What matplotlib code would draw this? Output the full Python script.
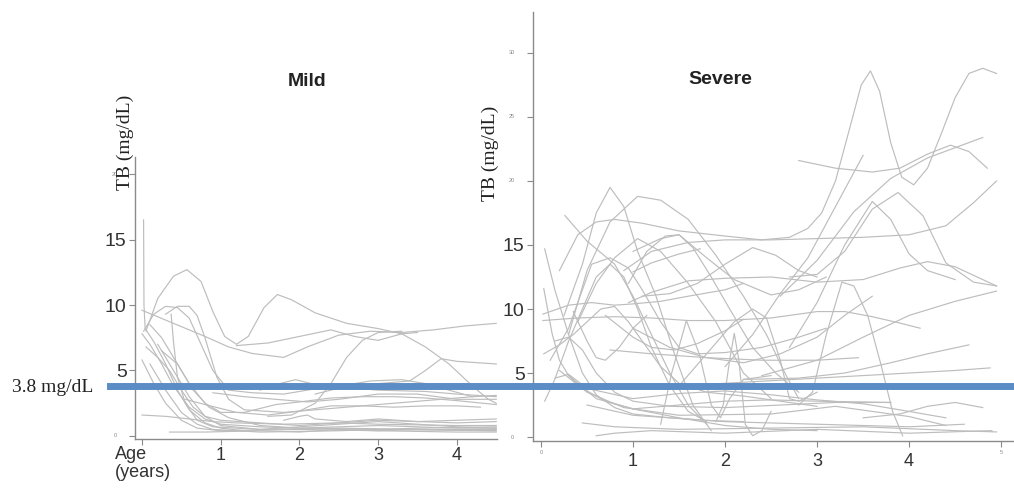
import matplotlib
matplotlib.use("Agg")
import matplotlib.pyplot as plt

# ─────────────────────────────────────────────
# DATA  (age in years, TB in mg/dL)
# ─────────────────────────────────────────────
mild_curves = [
    [(0.02, 16.5), (0.025, 10.0), (0.04, 8.2), (0.15, 7.2), (0.3, 5.5), (0.45, 3.5), (0.6, 2.0), (0.8, 1.0), (1.0, 0.6), (1.3, 0.4)],
    [(0.05, 8.0), (0.2, 10.5), (0.4, 12.2), (0.57, 12.7), (0.75, 11.8), (0.9, 9.5), (1.05, 7.6), (1.2, 7.0), (1.35, 7.6),
     (1.55, 9.8), (1.72, 10.8), (1.9, 10.4), (2.2, 9.4), (2.6, 8.6), (3.0, 8.2), (3.3, 7.8), (3.6, 6.8), (3.9, 5.5),
     (4.2, 3.8), (4.4, 2.8), (4.5, 2.5)],
    [(0.0, 9.6), (0.4, 8.6), (0.8, 7.6), (1.1, 6.8), (1.4, 6.3), (1.8, 6.0), (2.1, 6.8), (2.5, 7.7), (2.9, 8.0),
     (3.3, 7.9), (3.7, 8.1), (4.1, 8.4), (4.5, 8.6)],
    [(1.2, 6.9), (1.6, 7.1), (2.0, 7.6), (2.4, 8.1), (2.7, 7.6), (3.0, 7.3), (3.3, 7.8), (3.5, 7.9)],
    [(0.02, 8.0), (0.15, 9.3), (0.3, 9.9), (0.45, 9.8), (0.6, 9.0), (0.75, 7.0), (0.9, 5.0), (1.1, 3.5), (1.4, 3.3),
     (1.8, 3.2), (2.2, 3.6), (2.6, 3.7), (3.0, 3.5), (3.6, 3.4), (4.0, 3.2), (4.5, 3.0)],
    [(0.3, 9.3), (0.45, 9.9), (0.6, 9.9), (0.7, 9.2), (0.8, 7.5), (0.95, 4.5), (1.1, 2.8), (1.3, 2.0), (1.8, 1.8),
     (2.4, 2.1), (3.0, 2.4), (3.6, 2.7), (4.2, 3.0), (4.5, 3.1)],
    [(0.37, 9.3), (0.4, 7.2), (0.45, 4.5), (0.55, 2.5), (0.7, 1.2), (0.9, 0.7), (1.5, 0.5), (2.5, 0.6), (3.5, 0.5), (4.5, 0.5)],
    [(0.0, 7.8), (0.1, 7.0), (0.25, 5.5), (0.4, 3.8), (0.6, 2.2), (0.8, 1.3), (1.0, 0.9), (1.5, 0.7), (2.0, 0.6),
     (3.0, 0.8), (4.0, 0.6), (4.5, 0.6)],
    [(0.0, 5.8), (0.15, 4.0), (0.3, 2.5), (0.5, 1.2), (0.7, 0.6), (1.0, 0.4), (2.0, 0.5), (3.0, 0.4), (4.0, 0.3), (4.5, 0.3)],
    [(0.05, 6.8), (0.2, 6.0), (0.35, 5.0), (0.5, 3.5), (0.65, 2.2), (0.8, 1.5), (1.0, 1.2), (1.5, 1.0), (2.0, 0.8),
     (2.5, 1.0), (3.0, 1.2), (3.5, 1.1), (4.0, 1.2), (4.5, 1.3)],
    [(0.0, 1.6), (0.3, 1.5), (0.6, 1.3), (0.9, 1.1), (1.2, 1.0), (1.8, 0.9), (2.5, 1.0), (3.0, 0.9), (4.0, 0.8), (4.5, 0.8)],
    [(0.35, 0.3), (0.8, 0.3), (1.5, 0.4), (2.0, 0.3), (2.5, 0.5), (3.0, 0.4), (3.5, 0.5), (4.5, 0.4)],
    [(0.1, 8.5), (0.25, 7.5), (0.4, 6.0), (0.6, 4.0), (0.8, 2.5), (1.0, 1.8), (1.3, 1.8), (1.7, 2.4), (2.0, 2.6),
     (2.4, 2.9), (2.8, 3.0), (3.2, 3.0), (3.6, 2.9), (4.0, 2.7), (4.5, 2.4)],
    [(1.5, 3.5), (1.75, 4.0), (1.95, 4.3), (2.15, 4.0), (2.5, 3.8), (2.9, 4.2), (3.3, 4.3), (3.6, 4.0), (3.9, 3.5), (4.2, 3.0)],
    [(1.6, 1.5), (1.9, 1.6), (2.2, 2.5), (2.4, 4.0), (2.6, 6.0), (2.8, 7.3), (3.0, 7.9), (3.3, 8.0)],
    [(2.2, 3.2), (2.6, 3.8), (3.0, 4.0), (3.4, 4.2), (3.6, 5.0), (3.8, 5.9), (4.0, 5.7), (4.5, 5.5)],
    [(0.25, 6.5), (0.45, 5.5), (0.65, 3.5), (0.85, 2.2), (1.1, 1.4), (1.5, 0.8), (2.0, 0.6), (3.0, 0.5), (4.5, 0.4)],
    [(0.2, 7.0), (0.4, 5.0), (0.6, 3.0), (0.8, 1.5), (1.0, 0.8), (1.5, 0.5), (2.0, 0.7), (2.5, 0.9), (3.0, 1.1),
     (3.5, 0.9), (4.0, 0.7), (4.5, 0.6)],
    [(0.55, 2.8), (0.8, 2.4), (1.2, 1.8), (1.6, 1.6), (2.0, 1.9), (2.4, 2.3), (2.8, 2.3), (3.2, 2.2), (3.6, 2.3),
     (4.0, 2.3), (4.3, 2.2)],
    [(0.9, 3.3), (1.3, 3.0), (1.7, 2.8), (2.1, 2.6), (2.5, 2.8), (3.0, 3.2), (3.5, 3.2), (4.0, 2.8), (4.5, 2.8)],
    [(0.1, 5.5), (0.3, 3.5), (0.5, 1.8), (0.7, 0.9), (0.9, 0.5), (1.5, 0.3), (2.5, 0.4), (3.5, 0.6), (4.5, 0.7)],
    [(1.8, 1.2), (2.0, 1.5), (2.1, 1.6), (2.2, 1.3), (2.6, 1.1), (3.0, 1.3), (3.5, 1.1), (4.0, 1.0), (4.5, 1.1)],
]

severe_curves = [
    [(0.2, 13.0), (0.4, 15.8), (0.6, 16.8), (0.8, 17.0), (1.1, 16.7), (1.5, 16.1), (2.0, 15.7), (2.4, 15.4),
     (2.7, 15.6), (2.9, 16.3), (3.05, 17.5), (3.2, 20.0), (3.35, 24.0), (3.48, 27.5), (3.58, 28.6), (3.68, 27.0),
     (3.8, 23.0), (3.92, 20.3), (4.05, 19.7), (4.2, 21.0), (4.35, 23.7), (4.5, 26.5), (4.65, 28.4), (4.8, 28.8), (4.95, 28.4)],
    [(0.9, 13.0), (1.2, 14.5), (1.6, 15.2), (2.0, 15.4), (2.5, 15.4), (3.0, 15.5), (3.5, 15.6), (4.0, 15.8),
     (4.4, 16.5), (4.7, 18.3), (4.95, 20.0)],
    [(0.25, 9.5), (0.45, 13.5), (0.6, 17.5), (0.75, 19.5), (0.9, 18.0), (1.05, 14.5), (1.25, 11.0), (1.45, 6.5),
     (1.65, 2.5), (1.85, 0.5)],
    [(0.3, 8.0), (0.5, 13.0), (0.75, 16.8), (1.05, 18.8), (1.3, 18.5), (1.6, 17.0), (1.9, 14.2), (2.2, 11.0),
     (2.45, 8.0), (2.65, 5.0), (2.8, 3.0)],
    [(0.26, 17.3), (0.5, 15.3), (0.8, 13.5), (1.0, 11.0), (1.2, 8.0), (1.4, 5.0), (1.6, 2.5), (1.8, 1.0)],
    [(2.8, 21.6), (3.2, 21.0), (3.6, 20.7), (3.9, 21.0), (4.2, 22.1), (4.45, 22.8), (4.65, 22.3), (4.85, 21.0)],
    [(2.6, 11.0), (3.0, 13.8), (3.4, 17.6), (3.8, 20.2), (4.2, 21.8), (4.5, 22.6), (4.8, 23.4)],
    [(2.0, 5.5), (2.3, 8.0), (2.6, 11.2), (2.9, 14.0), (3.2, 18.0), (3.5, 22.0)],
    [(2.7, 7.0), (3.0, 10.5), (3.3, 15.0), (3.6, 18.4), (3.8, 17.0), (4.0, 14.3), (4.2, 13.0), (4.5, 12.3)],
    [(2.7, 12.5), (3.0, 12.7), (3.3, 14.5), (3.6, 17.8), (3.88, 19.1), (4.15, 17.3), (4.4, 13.6), (4.7, 12.1), (4.95, 11.8)],
    [(2.4, 4.8), (3.0, 6.0), (3.5, 7.8), (4.0, 9.5), (4.5, 10.6), (4.95, 11.4)],
    [(0.95, 10.5), (1.2, 11.3), (1.6, 12.2), (2.0, 12.4), (2.5, 12.5), (3.0, 12.1), (3.5, 12.3), (3.9, 13.2),
     (4.2, 13.7), (4.5, 13.3), (4.8, 12.3), (4.95, 11.8)],
    [(1.1, 11.0), (1.4, 11.2), (1.7, 12.0), (2.0, 13.5), (2.3, 14.8), (2.55, 14.2), (2.8, 13.0), (3.0, 12.5)],
    [(1.0, 14.5), (1.3, 15.5), (1.5, 15.8), (1.8, 14.0), (2.1, 12.3), (2.5, 11.1), (2.8, 11.5), (3.1, 12.5)],
    [(0.02, 9.1), (0.4, 9.3), (0.8, 9.4), (1.2, 9.3), (1.6, 9.1), (2.0, 9.1), (2.5, 9.3), (3.0, 9.8), (3.3, 9.8),
     (3.6, 9.4), (3.9, 8.9), (4.12, 8.5)],
    [(0.02, 9.6), (0.3, 10.3), (0.55, 10.5), (0.8, 10.3), (1.0, 10.4), (1.3, 10.6), (1.6, 11.0), (2.0, 11.5), (2.2, 12.0)],
    [(0.04, 14.7), (0.15, 11.5), (0.3, 8.0), (0.45, 5.0), (0.6, 3.3), (0.8, 2.3), (1.0, 1.8), (1.4, 1.5), (1.8, 1.3), (2.2, 1.2)],
    [(0.03, 11.6), (0.12, 8.1), (0.2, 6.0), (0.3, 4.8), (0.45, 3.8), (0.7, 2.8), (1.0, 2.2), (1.5, 1.5), (2.0, 0.9),
     (2.5, 0.6), (3.0, 0.5)],
    [(0.03, 6.5), (0.2, 7.2), (0.35, 8.0), (0.5, 9.0), (0.65, 10.0), (0.8, 10.2), (0.95, 9.0), (1.1, 7.5), (1.3, 5.5),
     (1.5, 4.2), (1.8, 3.5), (2.2, 3.2), (2.6, 2.8), (3.0, 2.4)],
    [(2.8, 2.5), (2.95, 3.5), (3.1, 8.0), (3.27, 12.1), (3.4, 11.8), (3.55, 9.5), (3.7, 5.5), (3.82, 2.0), (3.93, 0.1)],
    [(1.3, 1.0), (1.42, 5.0), (1.58, 9.1), (1.72, 6.5), (1.85, 2.5), (1.95, 1.5), (2.05, 3.0), (2.2, 4.5), (2.5, 4.8)],
    [(1.9, 1.2), (1.98, 2.5), (2.05, 6.0), (2.1, 8.1), (2.15, 6.0), (2.22, 1.0), (2.3, 0.1), (2.4, 0.5), (2.5, 2.0)],
    [(1.5, 4.0), (1.8, 6.5), (2.1, 9.0), (2.3, 10.0), (2.45, 9.3), (2.6, 6.0), (2.7, 3.0), (2.8, 2.8), (3.0, 3.5)],
    [(0.7, 9.5), (1.0, 7.8), (1.2, 7.0), (1.45, 6.8), (1.7, 7.3), (2.0, 8.3), (2.2, 9.2)],
    [(0.75, 6.8), (1.2, 6.5), (1.8, 6.2), (2.4, 6.0), (3.0, 6.0), (3.45, 6.2)],
    [(1.0, 8.5), (1.4, 7.0), (1.8, 6.2), (2.2, 5.8), (2.6, 6.5), (3.0, 7.8), (3.3, 9.5), (3.6, 11.0)],
    [(2.2, 4.5), (2.8, 4.6), (3.3, 5.0), (3.8, 5.8), (4.2, 6.5), (4.65, 7.2)],
    [(1.5, 4.0), (2.0, 4.2), (2.5, 4.4), (3.0, 4.6), (3.5, 4.8), (4.0, 5.0), (4.5, 5.2), (4.88, 5.4)],
    [(3.5, 1.5), (3.9, 1.8), (4.2, 2.4), (4.5, 2.7), (4.8, 2.3)],
    [(0.45, 1.1), (0.8, 0.8), (1.5, 0.6), (2.5, 0.7), (3.5, 0.8), (4.5, 0.5), (4.95, 0.4)],
    [(0.6, 0.1), (0.8, 0.3), (1.2, 0.5), (2.0, 0.3), (3.0, 0.6), (4.0, 0.3), (4.9, 0.5)],
    [(0.5, 2.5), (1.0, 1.7), (2.0, 1.2), (3.0, 1.0), (4.0, 0.8), (4.6, 1.0)],
    [(0.3, 4.8), (0.6, 3.0), (1.0, 2.2), (1.5, 2.5), (2.0, 2.8), (2.5, 2.9), (3.0, 2.8), (3.8, 2.7)],
    [(0.2, 5.2), (0.5, 3.5), (0.9, 2.3), (1.5, 1.7), (2.5, 1.8), (3.2, 2.4), (4.0, 1.6), (4.4, 0.9)],
    [(0.15, 4.6), (0.3, 4.9), (0.5, 3.8), (1.0, 3.0), (1.5, 3.4), (2.0, 3.6), (2.5, 3.3), (3.0, 2.9), (3.5, 2.6),
     (4.0, 2.0), (4.4, 1.5)],
    [(0.04, 2.8), (0.15, 4.5), (0.3, 7.5), (0.45, 10.0), (0.6, 12.5), (0.75, 13.5), (0.9, 12.5), (1.05, 10.0),
     (1.2, 7.0), (1.4, 4.0), (1.6, 2.0), (1.8, 1.2)],
    [(0.95, 12.0), (1.15, 14.5), (1.35, 15.7), (1.5, 15.8), (1.65, 14.8), (1.85, 12.5), (2.05, 10.0), (2.3, 7.0),
     (2.55, 5.0), (2.8, 3.5)],
    [(1.0, 12.9), (1.2, 13.6), (1.5, 14.3), (1.73, 14.7)],
    [(0.4, 9.0), (0.6, 12.0), (0.8, 14.0), (1.05, 15.5), (1.3, 14.5), (1.6, 12.0), (1.9, 9.0), (2.2, 5.0), (2.5, 3.0)],
    [(0.1, 6.0), (0.3, 8.5), (0.55, 13.5), (0.75, 14.0), (0.95, 13.2), (1.1, 11.5), (1.3, 9.0), (1.5, 7.0),
     (1.7, 6.5), (2.0, 6.6), (2.4, 7.0), (2.8, 7.8), (3.1, 8.5)],
    [(0.15, 7.5), (0.3, 7.8), (0.45, 6.8), (0.6, 5.0), (0.8, 3.5), (1.0, 2.8), (1.4, 2.4), (2.0, 2.3), (2.6, 2.5),
     (3.2, 2.7), (3.8, 2.7)],
    [(0.35, 9.8), (0.5, 7.5), (0.6, 6.2), (0.7, 6.0), (0.85, 7.0), (1.0, 8.5), (1.15, 9.5)],
]

threshold = 3.8
mild_yticks = [0, 5, 10, 15, 20]
severe_yticks = [0, 5, 10, 15, 20, 25, 30]
mild_xticks = [0, 1, 2, 3, 4]
severe_xticks = [0, 1, 2, 3, 4, 5]

# ─────────────────────────────────────────────
# LAYOUT (pixel boxes of the two panels)
# ─────────────────────────────────────────────
W, H = 1014, 492


def box(l, t, r, b):
    return [l / W, 1 - b / H, (r - l) / W, (b - t) / H]


SANS = "Liberation Sans"
SERIF = "Liberation Serif"
LINE = "#bdbdbd"
SPINE = "#8a8a8a"

fig = plt.figure(figsize=(W / 100, H / 100), dpi=100)
ax1 = fig.add_axes(box(135, 157, 497, 439))
ax2 = fig.add_axes(box(533, 12, 1014, 441))
# mild panel on top, with see-through backgrounds, so the threshold line runs across both
ax1.set_zorder(3)
ax1.patch.set_visible(False)
ax2.patch.set_visible(False)

for ax in (ax1, ax2):
    ax.spines["top"].set_visible(False)
    ax.spines["right"].set_visible(False)
    for s in ("left", "bottom"):
        ax.spines[s].set_color(SPINE)
        ax.spines[s].set_linewidth(1.0)
    ax.tick_params(length=4, width=0.8, color=SPINE, pad=2, labelcolor="#333333")

for c in mild_curves:
    ax1.plot([p[0] for p in c], [p[1] for p in c], color=LINE, lw=0.85, clip_on=False)
for c in severe_curves:
    ax2.plot([p[0] for p in c], [p[1] for p in c], color=LINE, lw=0.85, clip_on=False)

ax1.set_xlim(-0.089, 4.51)
ax1.set_ylim(-0.23, 21.3)
ax2.set_xlim(-0.087, 5.14)
ax2.set_ylim(-0.31, 33.2)

# y ticks: big labels for 5-15, tiny ones elsewhere
big = {5, 10, 15}
ax1.set_yticks(mild_yticks)
ax1.set_yticklabels([str(v) if v in big else "" for v in mild_yticks], fontsize=14, family=SANS)
ax2.set_yticks(severe_yticks)
ax2.set_yticklabels([str(v) if v in big else "" for v in severe_yticks], fontsize=14, family=SANS)
for v in mild_yticks:
    if v not in big:
        ax1.text(-0.055, v, str(v), transform=ax1.get_yaxis_transform(), fontsize=4,
                 color="#888888", ha="center", va="center", family=SANS)
for v in severe_yticks:
    if v not in big:
        ax2.text(-0.044, v, str(v), transform=ax2.get_yaxis_transform(), fontsize=4,
                 color="#888888", ha="center", va="center", family=SANS)

# x ticks
ax1.set_xticks(mild_xticks)
ax1.set_xticklabels([str(v) if v > 0 else "" for v in mild_xticks], fontsize=13, family=SANS)
ax2.set_xticks(severe_xticks)
ax2.set_xticklabels([str(v) if 0 < v < 5 else "" for v in severe_xticks], fontsize=13, family=SANS)
ax2.tick_params(axis="x", pad=5)
for v in (severe_xticks[0], severe_xticks[-1]):
    ax2.text(v, -0.026, str(v), transform=ax2.get_xaxis_transform(), fontsize=4,
             color="#888888", ha="center", va="center", family=SANS)

# titles and axis labels
fig.text(307 / W, 1 - 82 / H, "Mild", fontsize=14, fontweight="bold", family=SANS,
         ha="center", va="center", color="#222222")
fig.text(720 / W, 1 - 80 / H, "Severe", fontsize=14, fontweight="bold", family=SANS,
         ha="center", va="center", color="#222222")
fig.text(125 / W, 1 - 142 / H, "TB (mg/dL)", rotation=90, fontsize=14, family=SERIF,
         ha="center", va="center", color="#222222")
fig.text(490 / W, 1 - 153 / H, "TB (mg/dL)", rotation=90, fontsize=14, family=SERIF,
         ha="center", va="center", color="#222222")
fig.text(115 / W, 1 - 446 / H, "Age\n(years)", fontsize=13, family=SANS, ha="left", va="top",
         linespacing=1.05, color="#333333")

# threshold line spanning both panels
ax1.axhline(threshold, xmin=(110 - 135) / 362, xmax=(1014 - 135) / 362, color="#5b8cc6",
            lw=5, clip_on=False, zorder=5)
fig.text(12 / W, 1 - 388 / H, f"{threshold} mg/dL", fontsize=14, family=SERIF,
         ha="left", va="center", color="#222222")

fig.savefig("out.png", dpi=100)
